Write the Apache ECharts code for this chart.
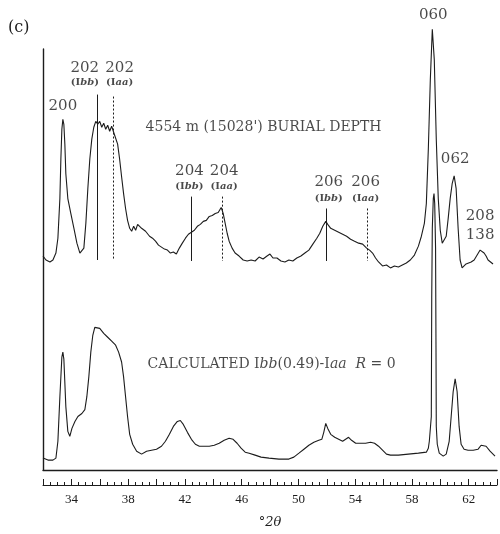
<!DOCTYPE html>
<html>
<head>
<meta charset="utf-8">
<script src="https://cdn.jsdelivr.net/npm/echarts@6/dist/echarts.min.js"></script>
<style>
  html, body { margin: 0; background: #fff; }
  #chart { width: 500px; height: 534px; }
</style>
</head>
<body>
<div id="chart"></div>
<script>
// measured pattern, 4554 m burial depth: [°2θ, intensity (arb.)]
const measured = [
  [32.00, 216], [32.21, 212], [32.49, 210], [32.70, 212], [32.91, 219], [33.05, 234], [33.19, 274],
  [33.26, 314], [33.33, 344], [33.40, 354], [33.47, 349], [33.54, 329], [33.61, 299], [33.75, 274],
  [33.96, 259], [34.18, 244], [34.39, 229], [34.60, 219], [34.74, 217], [34.88, 224], [35.02, 249],
  [35.16, 284], [35.30, 314], [35.44, 334], [35.58, 346], [35.72, 352], [35.86, 349], [36.00, 352],
  [36.14, 346], [36.28, 350], [36.42, 344], [36.56, 348], [36.70, 342], [36.84, 347], [36.98, 341],
  [37.12, 339], [37.26, 329], [37.40, 314], [37.54, 296], [37.68, 279], [37.82, 264], [37.96, 252],
  [38.11, 244], [38.25, 241], [38.39, 246], [38.53, 242], [38.67, 248], [38.81, 250], [38.95, 244],
  [39.09, 246], [39.23, 241], [39.37, 242], [39.51, 236], [39.72, 234], [39.93, 231], [40.14, 227],
  [40.35, 225], [40.56, 223], [40.77, 222], [40.98, 219], [41.19, 220], [41.40, 218], [41.61, 224],
  [41.82, 229], [42.04, 234], [42.25, 238], [42.46, 240], [42.67, 242], [42.88, 246], [43.09, 248],
  [43.30, 251], [43.51, 252], [43.72, 256], [43.93, 257], [44.14, 259], [44.35, 260], [44.56, 265],
  [44.70, 259], [44.84, 249], [44.98, 239], [45.12, 231], [45.33, 224], [45.54, 219], [45.82, 216],
  [46.11, 212], [46.39, 211], [46.67, 212], [46.95, 211], [47.23, 215], [47.51, 213], [47.79, 216],
  [48.00, 218], [48.21, 214], [48.49, 214], [48.77, 211], [49.05, 210], [49.33, 212], [49.61, 211],
  [49.89, 214], [50.18, 216], [50.46, 219], [50.74, 222], [51.02, 228], [51.30, 234], [51.51, 239],
  [51.72, 246], [51.93, 251], [52.07, 248], [52.28, 244], [52.56, 242], [52.84, 240], [53.12, 238],
  [53.40, 236], [53.68, 233], [53.96, 231], [54.25, 229], [54.53, 228], [54.81, 224], [55.02, 222],
  [55.23, 219], [55.44, 214], [55.65, 210], [55.93, 206], [56.21, 207], [56.49, 204], [56.77, 206],
  [57.05, 205], [57.33, 207], [57.61, 209], [57.89, 212], [58.18, 217], [58.46, 226], [58.67, 236],
  [58.88, 249], [59.02, 269], [59.16, 324], [59.30, 394], [59.44, 445], [59.58, 414], [59.72, 334],
  [59.86, 274], [60.00, 242], [60.14, 229], [60.28, 227], [60.42, 236], [60.56, 254], [60.70, 274],
  [60.84, 289], [60.98, 297], [61.12, 284], [61.26, 244], [61.40, 212], [61.54, 204], [61.68, 206],
  [61.82, 208], [61.96, 206], [62.18, 210], [62.39, 212], [62.60, 217], [62.81, 222], [62.95, 224],
  [63.09, 219], [63.23, 216], [63.37, 212], [63.51, 211], [63.72, 208]
];

// calculated Ibb(0.49)-Iaa pattern
const calculated = [
  [32.00, 12], [32.35, 10], [32.70, 10], [32.91, 12], [33.05, 29], [33.19, 74], [33.33, 114],
  [33.40, 119], [33.47, 112], [33.61, 64], [33.75, 39], [33.89, 34], [34.04, 42], [34.25, 49],
  [34.46, 54], [34.74, 57], [34.95, 61], [35.09, 74], [35.23, 94], [35.37, 119], [35.51, 136],
  [35.65, 144], [35.79, 146], [36.00, 143], [36.28, 138], [36.56, 134], [36.84, 130], [37.12, 126],
  [37.33, 119], [37.54, 109], [37.68, 94], [37.82, 74], [37.96, 54], [38.11, 36], [38.32, 26],
  [38.60, 19], [38.95, 16], [39.30, 19], [39.65, 20], [40.00, 21], [40.35, 24], [40.63, 29],
  [40.91, 36], [41.19, 44], [41.47, 49], [41.68, 50], [41.89, 46], [42.18, 38], [42.46, 31],
  [42.74, 26], [43.02, 24], [43.37, 24], [43.72, 24], [44.07, 25], [44.42, 27], [44.77, 30],
  [45.12, 32], [45.40, 31], [45.68, 27], [45.96, 22], [46.25, 18], [46.53, 17], [46.95, 15],
  [47.37, 13], [47.93, 12], [48.63, 11], [49.33, 11], [49.68, 13], [50.04, 17], [50.39, 21],
  [50.74, 25], [51.09, 28], [51.44, 30], [51.65, 31], [51.79, 38], [51.93, 47], [52.07, 42],
  [52.28, 36], [52.56, 33], [52.84, 31], [53.12, 29], [53.33, 31], [53.54, 33], [53.75, 30],
  [54.04, 27], [54.39, 27], [54.74, 27], [55.09, 28], [55.37, 27], [55.65, 24], [55.93, 20],
  [56.21, 16], [56.49, 15], [57.05, 15], [57.75, 16], [58.46, 17], [59.02, 18], [59.16, 22],
  [59.23, 29], [59.37, 54], [59.40, 174], [59.44, 244], [59.51, 274], [59.56, 279], [59.61, 269],
  [59.67, 224], [59.70, 124], [59.72, 44], [59.79, 26], [59.93, 17], [60.00, 16], [60.21, 14],
  [60.42, 16], [60.63, 29], [60.77, 54], [60.91, 79], [61.05, 92], [61.19, 79], [61.33, 44],
  [61.47, 26], [61.68, 21], [61.96, 20], [62.32, 20], [62.67, 21], [62.88, 25], [63.02, 27],
  [63.23, 24], [63.51, 19], [63.86, 14]
];

// reflection markers drawn on the measured pattern
const markerPos = [35.83, 36.98, 42.46, 44.61, 51.98, 54.88];
const markerTop = [379, 377, 276, 276, 264, 264];
const markerBottom = [212, 212, 211, 211, 211, 211];
const markerPhase = ['Ibb', 'Iaa', 'Ibb', 'Iaa', 'Ibb', 'Iaa'];

// hkl labels
const hklText = ['200', '202', '202', '204', '204', '206', '206', '060', '062', '208', '138'];
const hklX = [33.40, 34.95, 37.40, 42.32, 44.77, 52.14, 54.74, 59.51, 61.05, 62.81, 62.81];
const hklY = [367, 406, 406, 302, 302, 291, 291, 459, 314, 256, 237];

// polytype labels under the hkl numbers
const phaseX = [34.95, 37.40, 42.32, 44.77, 52.14, 54.74];
const phaseY = [391, 391, 286, 286, 274, 274];

// caption anchors (left edge)
const captionX = [39.23, 39.37];
const captionY = [346, 107];

const xTicks = { min: 32, max: 64, step: 2, labelStep: 4, firstLabel: 34 };

const serif = 'DejaVu Serif';
const ink = '#1c1c1c';

function phaseRich(p) {
  return '{b|(I}{bi|' + p.slice(1) + '}{b|)}';
}

const chart = echarts.init(document.getElementById('chart'));

const textRich = {
  n: { fontFamily: serif, fontSize: 15, color: ink },
  b: { fontFamily: serif, fontSize: 10, fontWeight: 'bold', color: ink },
  bi: { fontFamily: serif, fontSize: 10, fontWeight: 'bold', fontStyle: 'italic', color: ink },
  t: { fontFamily: serif, fontSize: 14, color: ink },
  ti: { fontFamily: serif, fontSize: 14, fontStyle: 'italic', color: ink }
};

chart.setOption({
  animation: false,
  backgroundColor: '#fff',
  graphic: [{
    type: 'text', left: 8, top: 20,
    style: { text: '(c)', fontFamily: serif, fontSize: 16, fill: ink }
  }],
  grid: { left: 43, right: 1, top: 49, bottom: 60 },
  xAxis: [{
    type: 'value', min: xTicks.min, max: xTicks.max,
    axisLine: { show: true, onZero: false, lineStyle: { color: ink, width: 1.4 } },
    axisTick: { show: false }, axisLabel: { show: false }, splitLine: { show: false }
  }, {
    type: 'value', position: 'bottom', offset: 15,
    min: xTicks.min, max: xTicks.max, interval: xTicks.step,
    name: '°2θ', nameLocation: 'middle', nameGap: 31,
    nameTextStyle: { fontFamily: serif, fontSize: 13, fontStyle: 'italic', color: ink },
    axisLine: { show: true, onZero: false, lineStyle: { color: ink, width: 1 } },
    axisTick: { show: true, inside: true, length: 6, lineStyle: { color: ink } },
    minorTick: { show: true, splitNumber: 4, length: 3, lineStyle: { color: ink } },
    axisLabel: {
      margin: 8, fontFamily: 'Liberation Serif', fontSize: 13, color: ink,
      formatter: v => ((v - xTicks.firstLabel) % xTicks.labelStep === 0 ? String(v) : '')
    },
    splitLine: { show: false }
  }],
  yAxis: {
    type: 'value', min: 0, max: 425,
    axisLine: { show: true, lineStyle: { color: ink, width: 1.4 } },
    axisTick: { show: false }, axisLabel: { show: false }, splitLine: { show: false }
  },
  series: [{
    name: 'measured', type: 'line', data: measured, clip: false,
    showSymbol: false, lineStyle: { color: ink, width: 1.1 },
    markLine: {
      silent: true, symbol: 'none', label: { show: false },
      data: markerPos.map((x, i) => [
        { coord: [x, markerTop[i]], lineStyle: { color: ink, width: 1, type: markerPhase[i] === 'Ibb' ? 'solid' : [2, 2] } },
        { coord: [x, markerBottom[i]] }
      ])
    }
  }, {
    name: 'calculated', type: 'line', data: calculated, clip: false,
    showSymbol: false, lineStyle: { color: ink, width: 1.1 }
  }, {
    name: 'hkl', type: 'scatter', symbolSize: 0, silent: true, clip: false,
    data: hklText.map((t, i) => [hklX[i], hklY[i], t]),
    label: { show: true, position: 'inside', formatter: p => '{n|' + p.data[2] + '}', rich: textRich }
  }, {
    name: 'phase', type: 'scatter', symbolSize: 0, silent: true, clip: false,
    data: phaseX.map((x, i) => [x, phaseY[i], markerPhase[i]]),
    label: { show: true, position: 'inside', formatter: p => phaseRich(p.data[2]), rich: textRich }
  }, {
    name: 'captions', type: 'scatter', symbolSize: 0, silent: true, clip: false,
    data: captionX.map((x, i) => [x, captionY[i], i]),
    label: {
      show: true, position: 'right', distance: 0, rich: textRich,
      formatter: p => p.data[2] === 0
        ? "{t|4554 m (15028') BURIAL DEPTH}"
        : '{t|CALCULATED I}{ti|bb}{t|(0.49)-I}{ti|aa}{t|  }{ti|R}{t| = 0}'
    }
  }]
});
</script>
</body>
</html>
